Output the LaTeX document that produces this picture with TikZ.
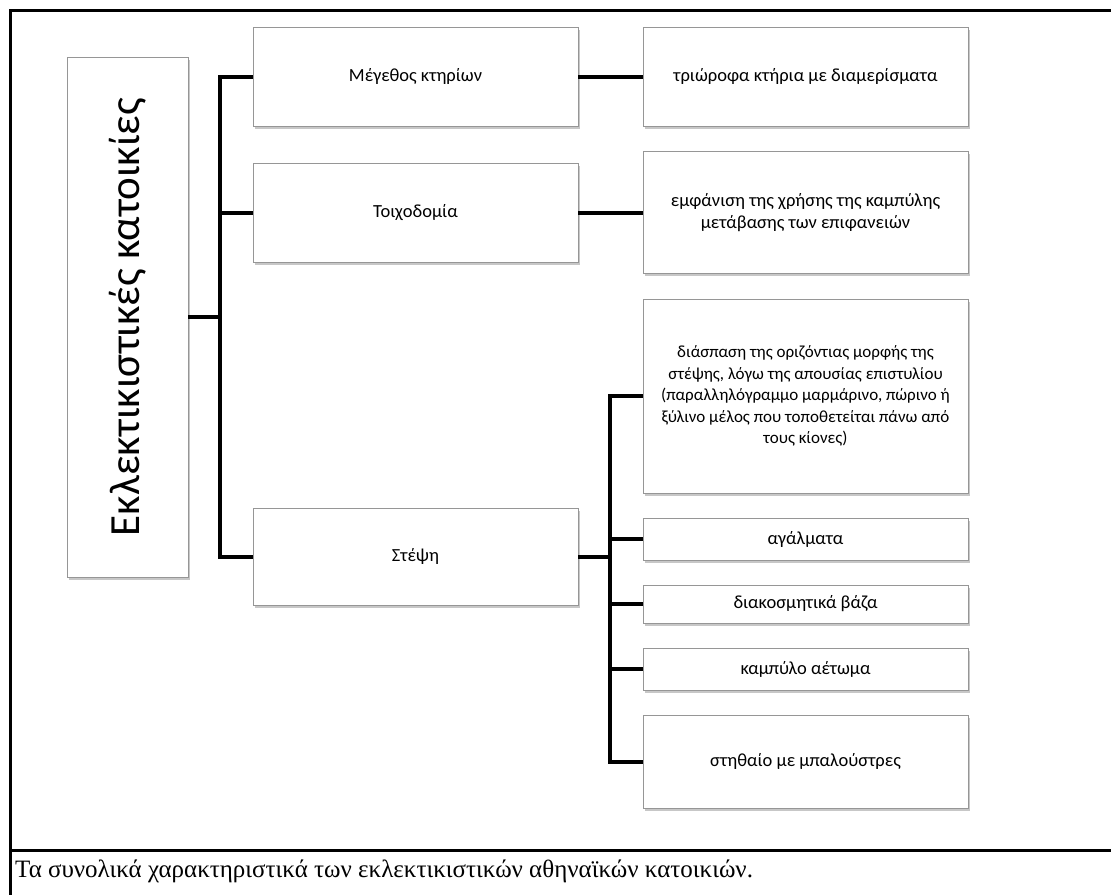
\documentclass[tikz,border=0pt]{standalone}
\usepackage{fontspec}
\setmainfont{Liberation Serif}
\newfontfamily\boxfont{Carlito}
\usetikzlibrary{shadows}
\definecolor{boxGrey}{RGB}{150,150,150}

\begin{document}
\begin{tikzpicture}[x=1pt, y=-1pt,
    itembox/.style={draw=boxGrey, fill=white, line width=0.8pt, inner sep=2pt, align=center,
        font=\boxfont\fontsize{18.5}{22}\selectfont,
        drop shadow={shadow xshift=1.5pt, shadow yshift=-2.5pt, fill=black, opacity=0.22}},
    smalltext/.style={font=\boxfont\fontsize{17}{21.5}\selectfont},
    link/.style={line width=4pt, draw=black, line join=miter},
    frame/.style={line width=3pt, draw=black}
]
    \useasboundingbox (0,0) rectangle (1111,895);

    \draw[frame] (1111,10) -- (10,10) -- (10,895);
    \draw[frame] (10,850) -- (1111,850);

    \node[itembox, minimum width=121pt, minimum height=520pt] (root) at (127.5,317)
        {\rotatebox{90}{\fontsize{43}{48}\selectfont Εκλεκτικιστικές κατοικίες}};

    \node[itembox, minimum width=325pt, minimum height=99pt] (megethos) at (415.5,76.5) {Μέγεθος κτηρίων};
    \node[itembox, minimum width=325pt, minimum height=99pt] (toicho) at (415.5,212.5) {Τοιχοδομία};
    \node[itembox, minimum width=325pt, minimum height=97pt] (stepsi) at (415.5,556.5) {Στέψη};

    \node[itembox, minimum width=325pt, minimum height=99pt] (triorofa) at (805.5,76.5) {τριώροφα κτήρια με διαμερίσματα};
    \node[itembox, minimum width=325pt, minimum height=122pt] (kampyli) at (805.5,212.5)
        {εμφάνιση της χρήσης της καμπύλης\\μετάβασης των επιφανειών};
    \node[itembox, smalltext, minimum width=325pt, minimum height=194pt] (diaspasi) at (805.5,396)
        {διάσπαση της οριζόντιας μορφής της\\στέψης, λόγω της απουσίας επιστυλίου\\(παραλληλόγραμμο μαρμάρινο, πώρινο ή\\ξύλινο μέλος που τοποθετείται πάνω από\\τους κίονες)};
    \node[itembox, minimum width=325pt, minimum height=42pt] (agalmata) at (805.5,539) {αγάλματα};
    \node[itembox, minimum width=325pt, minimum height=38pt] (vaza) at (805.5,604) {διακοσμητικά βάζα};
    \node[itembox, minimum width=325pt, minimum height=42pt] (aetoma) at (805.5,669) {καμπύλο αέτωμα};
    \node[itembox, minimum width=325pt, minimum height=93pt] (stithaio) at (805.5,761.5) {στηθαίο με μπαλούστρες};

    \draw[link] (root.east) -- ++(32,0) |- (megethos.west);
    \draw[link] (root.east) -- ++(32,0) |- (toicho.west);
    \draw[link] (root.east) -- ++(32,0) |- (stepsi.west);

    \draw[link] (megethos) -- (triorofa);
    \draw[link] (toicho) -- (kampyli);

    \draw[link] (stepsi.east) -- ++(32,0) |- (diaspasi.west);
    \draw[link] (stepsi.east) -- ++(32,0) |- (agalmata.west);
    \draw[link] (stepsi.east) -- ++(32,0) |- (vaza.west);
    \draw[link] (stepsi.east) -- ++(32,0) |- (aetoma.west);
    \draw[link] (stepsi.east) -- ++(32,0) |- (stithaio.west);

    \node[anchor=west, font=\fontsize{25}{29}\selectfont, inner sep=0pt] (caption) at (15,871)
        {Τα συνολικά χαρακτηριστικά των εκλεκτικιστικών αθηναϊκών κατοικιών.};
\end{tikzpicture}
\end{document}
